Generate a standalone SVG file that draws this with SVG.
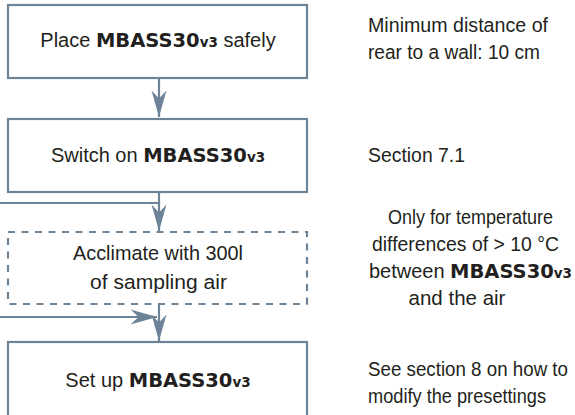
<svg xmlns="http://www.w3.org/2000/svg" width="575" height="415" viewBox="0 0 575 415">
<style>
  .box{fill:#fff;stroke:#6d8398;stroke-width:2.2}
  .dash{fill:#fff;stroke:#6d8398;stroke-width:2.2;stroke-dasharray:7 6.5}
  .ln{fill:none;stroke:#6d8398;stroke-width:2.2}
  .t{font-family:"Liberation Sans",Arial,sans-serif;font-size:20.5px;fill:#231f20}
  .m{font-family:"Liberation Sans",Arial,sans-serif;font-size:20px;fill:#231f20}
  .b{font-family:"DejaVu Sans",sans-serif;font-weight:bold;font-size:19.5px}
  .s{font-family:"DejaVu Sans",sans-serif;font-weight:bold;font-size:13.5px}
</style>
<defs>
  <marker id="ah" markerUnits="userSpaceOnUse" markerWidth="30" markerHeight="20" viewBox="-24 -8 26 16" refX="0" refY="0" orient="auto">
    <path d="M0,0 L-23,-6.5 L-16,0 L-23,6.5 Z" fill="#6d8398"/>
  </marker>
</defs>
<rect width="575" height="415" fill="#fff"/>
<g id="connectors">
  <line class="ln" x1="159" y1="78" x2="159" y2="117" marker-end="url(#ah)"/>
  <line class="ln" x1="159" y1="192" x2="159" y2="231" marker-end="url(#ah)"/>
  <line class="ln" x1="0" y1="203" x2="160" y2="203"/>
  <line class="ln" x1="159" y1="304" x2="159" y2="341" marker-end="url(#ah)"/>
  <line class="ln" x1="0" y1="317" x2="157" y2="317" marker-end="url(#ah)"/>
</g>
<g id="node1">
  <rect class="box" x="8" y="5" width="299" height="73"/>
  <text class="m" x="158" y="47" text-anchor="middle">Place <tspan class="b">MBASS30</tspan><tspan class="s">v3</tspan> safely</text>
</g>
<g id="node2">
  <rect class="box" x="8" y="119" width="299" height="73"/>
  <text class="m" x="158" y="162" text-anchor="middle">Switch on <tspan class="b">MBASS30</tspan><tspan class="s">v3</tspan></text>
</g>
<g id="node3">
  <rect class="dash" x="8" y="232" width="299" height="72"/>
  <text class="t" x="73" y="260" textLength="170" lengthAdjust="spacingAndGlyphs">Acclimate with 300l</text>
  <text class="t" x="90" y="289" textLength="137" lengthAdjust="spacingAndGlyphs">of sampling air</text>
</g>
<g id="node4">
  <rect class="box" x="8" y="342" width="299" height="90"/>
  <text class="m" x="158" y="387" text-anchor="middle">Set up <tspan class="b">MBASS30</tspan><tspan class="s">v3</tspan></text>
</g>
<g id="notes">
  <text class="t" x="368" y="32" textLength="180" lengthAdjust="spacingAndGlyphs">Minimum distance of</text>
  <text class="t" x="368" y="59" textLength="172" lengthAdjust="spacingAndGlyphs">rear to a wall: 10 cm</text>
  <text class="t" x="368" y="162" textLength="97" lengthAdjust="spacingAndGlyphs">Section 7.1</text>
  <text class="t" x="388" y="224" textLength="165" lengthAdjust="spacingAndGlyphs">Only for temperature</text>
  <text class="t" x="372" y="251" textLength="187" lengthAdjust="spacingAndGlyphs">differences of &gt; 10 °C</text>
  <text class="m" x="572" y="278" text-anchor="end">between <tspan class="b">MBASS30</tspan><tspan class="s">v3</tspan></text>
  <text class="t" x="457" y="305" text-anchor="middle">and the air</text>
  <text class="t" x="368" y="376" style="font-size:19.5px" textLength="200" lengthAdjust="spacingAndGlyphs">See section 8 on how to</text>
  <text class="t" x="368" y="403" textLength="178" lengthAdjust="spacingAndGlyphs">modify the presettings</text>
</g>
</svg>
